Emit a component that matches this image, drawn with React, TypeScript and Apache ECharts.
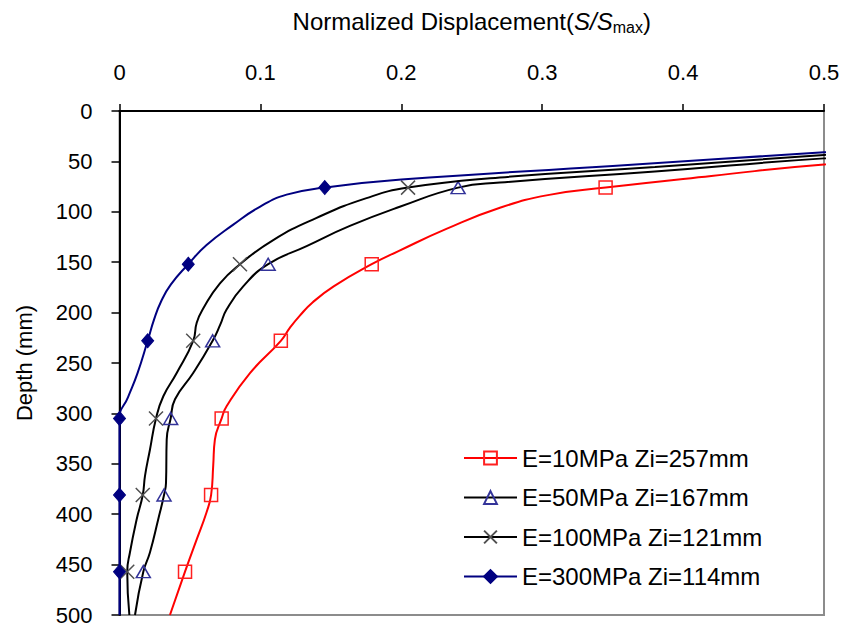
import React, { useEffect, useRef } from "react";
import * as echarts from "echarts";

const FONT = "'Liberation Sans', Arial, Helvetica, sans-serif";

// axis bounds
const X_MIN = 0;
const X_MAX = 0.5;
const X_STEP = 0.1;
const Y_MIN = 0;
const Y_MAX = 500;
const Y_STEP = 50;

// depths (mm) at which the markers are drawn
const markerDepths = [76, 152, 228, 305, 381, 457];

const seriesNames = [
  "E=10MPa Zi=257mm",
  "E=50MPa Zi=167mm",
  "E=100MPa Zi=121mm",
  "E=300MPa Zi=114mm",
];

// [normalized displacement, depth]
const e10Curve: [number, number][] = [
  [0.6, 45], [0.5, 53], [0.42, 64.5], [0.345, 76], [0.305, 83.2], [0.27, 96],
  [0.232, 117], [0.198, 139], [0.179, 152], [0.152, 174], [0.137, 190],
  [0.128, 203], [0.121, 215], [0.1145, 228], [0.0926, 260], [0.076, 293],
  [0.0725, 305], [0.0677, 326], [0.0665, 352], [0.065, 381], [0.0618, 398],
  [0.0548, 425], [0.0465, 457], [0.0358, 500],
];

const e50Curve: [number, number][] = [
  [0.6, 40], [0.5, 47], [0.38, 60], [0.27, 71], [0.2403, 76], [0.1989, 95],
  [0.1635, 114], [0.1328, 134], [0.1055, 152], [0.0878, 174], [0.076, 197],
  [0.0715, 212], [0.0661, 228], [0.0523, 260], [0.0394, 286], [0.0363, 305],
  [0.0335, 326], [0.033, 369], [0.0316, 381], [0.0275, 405], [0.0216, 438],
  [0.0169, 457], [0.011, 500],
];

const e100Curve: [number, number][] = [
  [0.6, 35], [0.5, 43.6], [0.38, 55.6], [0.27, 66], [0.2048, 76],
  [0.1753, 86.4], [0.1399, 106], [0.1091, 128], [0.0855, 152], [0.0713, 171],
  [0.0594, 196], [0.0548, 210], [0.0523, 228], [0.0406, 260], [0.0311, 283],
  [0.0259, 305], [0.0216, 336], [0.0181, 362], [0.0165, 381], [0.0122, 405],
  [0.0074, 438], [0.0055, 457], [0.007, 500],
];

const e300Curve: [number, number][] = [
  [0.6, 33], [0.5, 41], [0.35, 54.5], [0.2, 68], [0.1457, 76], [0.1186, 83],
  [0.0996, 95], [0.0805, 113], [0.0618, 133], [0.0488, 152], [0.0365, 172],
  [0.0295, 189], [0.0245, 207], [0.02, 228], [0.0128, 260], [0.006, 284],
  [0, 305], [0, 381], [0, 457], [0, 500],
];

const toData = (curve: [number, number][]) =>
  curve.map(([x, d]) =>
    markerDepths.includes(d) ? { value: [x, d] } : { value: [x, d], symbol: "none" }
  );

export default function App() {
  const ref = useRef<HTMLDivElement>(null);

  useEffect(() => {
    if (!ref.current) return;
    const chart = echarts.init(ref.current, undefined, { renderer: "svg" });

    const base = {
      type: "line",
      smooth: 0.5,
      clip: true,
      animation: false,
      showSymbol: true,
    };

    chart.setOption({
      animation: false,
      backgroundColor: "#fff",
      textStyle: { fontFamily: FONT },
      grid: {
        left: 119.5,
        right: 19,
        top: 111,
        bottom: 10,
        show: true,
        borderColor: "#8c8c8c",
        borderWidth: 2,
        backgroundColor: "transparent",
        containLabel: false,
      },
      legend: {
        orient: "vertical",
        left: 463,
        top: 445,
        padding: 0,
        itemWidth: 53,
        itemHeight: 16,
        itemGap: 13.5,
        selectedMode: false,
        textStyle: { fontFamily: FONT, fontSize: 24, color: "#000", lineHeight: 26 },
        data: seriesNames,
      },
      xAxis: {
        type: "value",
        position: "top",
        min: X_MIN,
        max: X_MAX,
        interval: X_STEP,
        name: "{a|Normalized Displacement(}{i|S/S}{s|max}{a|)}",
        nameLocation: "middle",
        nameGap: 76,
        nameTextStyle: {
          rich: {
            a: { fontFamily: FONT, fontSize: 24, color: "#000", lineHeight: 28 },
            i: { fontFamily: FONT, fontSize: 24, color: "#000", fontStyle: "italic", lineHeight: 28 },
            s: { fontFamily: FONT, fontSize: 16, color: "#000", verticalAlign: "bottom", lineHeight: 15 },
          },
        },
        axisLine: { show: true, onZero: false, lineStyle: { color: "#000", width: 2 } },
        axisTick: { show: true, length: 7, lineStyle: { color: "#000", width: 1.5 } },
        axisLabel: { margin: 28, fontFamily: FONT, fontSize: 22, color: "#000" },
        splitLine: { show: false },
      },
      yAxis: {
        type: "value",
        inverse: true,
        min: Y_MIN,
        max: Y_MAX,
        interval: Y_STEP,
        name: "Depth (mm)",
        nameLocation: "middle",
        nameGap: 84,
        nameTextStyle: { fontFamily: FONT, fontSize: 22, color: "#000" },
        axisLine: { show: true, onZero: false, lineStyle: { color: "#000", width: 2 } },
        axisTick: { show: true, length: 8, lineStyle: { color: "#000", width: 1.5 } },
        axisLabel: { margin: 27, fontFamily: FONT, fontSize: 22, color: "#000" },
        splitLine: { show: false },
      },
      series: [
        {
          ...base,
          name: seriesNames[0],
          data: toData(e10Curve),
          symbol: "rect",
          symbolSize: 13,
          lineStyle: { color: "#ff0000", width: 2 },
          itemStyle: { color: "rgba(255,255,255,0)", borderColor: "#ff2020", borderWidth: 1.5 },
          z: 3,
        },
        {
          ...base,
          name: seriesNames[1],
          data: toData(e50Curve),
          symbol: "triangle",
          symbolSize: [14, 12],
          lineStyle: { color: "#000", width: 2 },
          itemStyle: { color: "rgba(255,255,255,0)", borderColor: "#333399", borderWidth: 1.5 },
          z: 4,
        },
        {
          ...base,
          name: seriesNames[2],
          data: toData(e100Curve),
          symbol: "path://M0,0L10,10M10,0L0,10",
          symbolSize: 14,
          lineStyle: { color: "#000", width: 2 },
          itemStyle: { color: "rgba(255,255,255,0)", borderColor: "#505050", borderWidth: 1.5 },
          z: 5,
        },
        {
          ...base,
          name: seriesNames[3],
          data: toData(e300Curve),
          symbol: "diamond",
          symbolSize: [12, 14],
          lineStyle: { color: "#000080", width: 2 },
          itemStyle: { color: "#000080", borderColor: "#000080", borderWidth: 1 },
          z: 6,
        },
      ],
    });

    return () => chart.dispose();
  }, []);

  return <div ref={ref} style={{ width: 843, height: 626, position: "fixed", left: 0, top: 0 }} />;
}
